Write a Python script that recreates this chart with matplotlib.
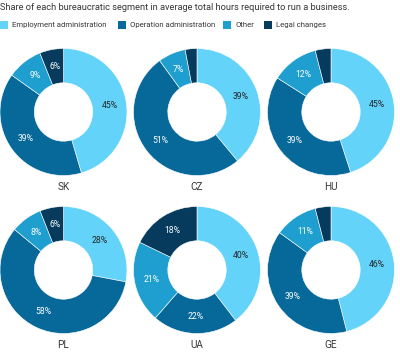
import matplotlib
matplotlib.use("Agg")
import matplotlib.pyplot as plt
import numpy as np
from matplotlib.patches import Rectangle
from matplotlib import font_manager as fm

reg = [f.fname for f in fm.fontManager.ttflist if f.fname.endswith("Roboto-Regular.ttf")]
if reg:
    FP = dict(fontproperties=fm.FontProperties(fname=reg[0]))
else:
    FP = dict(family=["Roboto", "DejaVu Sans"])

title = "Share of each bureaucratic segment in average total hours required to run a business."
segments = ["Employment administration", "Operation administration", "Other", "Legal changes"]
colors = ["#64d3f9", "#07699a", "#1e9fd0", "#063b5e"]
text_colors = ["#222222", "white", "white", "white"]

countries = ["SK", "CZ", "HU", "PL", "UA", "GE"]
employment = [45, 39, 45, 28, 40, 46]
operation = [39, 51, 39, 58, 22, 39]
other = [9, 7, 12, 8, 21, 11]
legal = [6, 3, 4, 6, 18, 4]

W, H = 400, 353
fig = plt.figure(figsize=(W / 100, H / 100), dpi=100)


def fp(size):
    d = dict(FP)
    if "fontproperties" in d:
        p = d["fontproperties"].copy()
        p.set_size(size)
        d["fontproperties"] = p
    else:
        d["fontsize"] = size
    return d


fig.text(0 / W, 1 - 8 / H, title, color="#333333", va="center", ha="left", **fp(6.7))

# legend
leg_x = [0, 118, 223, 264]
for i, seg in enumerate(segments):
    x0 = leg_x[i]
    fig.patches.append(Rectangle((x0 / W, 1 - 29 / H), 8 / W, 8 / H, transform=fig.transFigure,
                                 facecolor=colors[i], edgecolor="none"))
    fig.text((x0 + 12.5) / W, 1 - 25 / H, seg, color="#333333", va="center", ha="left", **fp(5.6))

centers_x = [63.5, 197, 331]
centers_y = [112, 270]
R = 63.5
for k, c in enumerate(countries):
    cx = centers_x[k % 3]
    cy = centers_y[k // 3]
    ax = fig.add_axes([(cx - R) / W, 1 - (cy + R) / H, 2 * R / W, 2 * R / H])
    vals = [employment[k], operation[k], other[k], legal[k]]
    wedges, _ = ax.pie(vals, colors=colors, startangle=90, counterclock=False, radius=1,
                       wedgeprops=dict(width=0.54, edgecolor="white", linewidth=0.4))
    for j, w in enumerate(wedges):
        if vals[j] < 5:
            continue
        ang = np.deg2rad((w.theta1 + w.theta2) / 2)
        r = 0.73
        ax.text(r * np.cos(ang), r * np.sin(ang), f"{vals[j]}%", ha="center", va="center",
                color=text_colors[j], **fp(6.2))
    ax.set_xlim(-1, 1)
    ax.set_ylim(-1, 1)
    ax.set_aspect("equal")
    ax.axis("off")
    fig.text(cx / W, 1 - (cy + 75) / H, c, ha="center", va="center", color="#333333", **fp(7.2))

fig.savefig("out.png", dpi=100)
